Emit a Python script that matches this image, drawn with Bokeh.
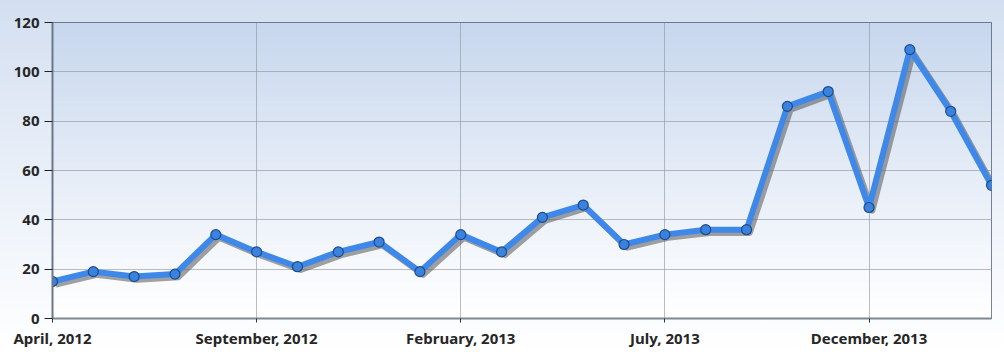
import numpy as np
from bokeh.plotting import figure
from bokeh.models import ColumnDataSource, FixedTicker, Range1d
from bokeh.transform import dodge
from bokeh.embed import file_html
from bokeh.resources import INLINE

months = ["April, 2012", "May, 2012", "June, 2012", "July, 2012", "August, 2012",
          "September, 2012", "October, 2012", "November, 2012", "December, 2012",
          "January, 2013", "February, 2013", "March, 2013", "April, 2013", "May, 2013",
          "June, 2013", "July, 2013", "August, 2013", "September, 2013", "October, 2013",
          "November, 2013", "December, 2013", "January, 2014", "February, 2014", "March, 2014"]
values = [15, 19, 17, 18, 34, 27, 21, 27, 31, 19, 34, 27, 41, 46, 30, 34, 36, 36, 86, 92, 45, 109, 84, 54]
y_ticks = [0, 20, 40, 60, 80, 100, 120]
x_tick_idx = [0, 5, 10, 15, 20]

idx = list(range(len(values)))
src = ColumnDataSource(dict(x=idx, y=values))

x_max = len(values) - 1
y_max = y_ticks[-1]

p = figure(width=1004, height=355, output_backend="svg", toolbar_location=None,
           x_range=Range1d(0, x_max), y_range=Range1d(0, y_max),
           min_border_left=52, min_border_right=13, min_border_top=22, min_border_bottom=37)

p.styles = {"background": "linear-gradient(to bottom, #d3dff0 0%, #eef3fa 60%, #ffffff 100%)"}
p.border_fill_alpha = 0
p.background_fill_alpha = 0
p.outline_line_color = "#4a5c74"
p.outline_line_width = 1

# plot-area gradient
n = 200
t = np.linspace(0, 1, n)  # bottom -> top
top = np.array([199, 215, 238])
bot = np.array([255, 255, 255])
img = np.zeros((n, 1), dtype=np.uint32)
view = img.view(dtype=np.uint8).reshape((n, 1, 4))
for i in range(n):
    c = bot + (top - bot) * t[i] ** 1.1
    view[i, 0, 0] = int(c[0]); view[i, 0, 1] = int(c[1]); view[i, 0, 2] = int(c[2]); view[i, 0, 3] = 255
p.image_rgba(image=[img], x=0, y=0, dw=x_max, dh=y_max, level="image")

# shadow
p.line(x=dodge("x", 0.08), y=dodge("y", -1.3), source=src, line_width=6,
       line_color="#555555", line_alpha=0.55, line_join="round")
# main line
p.line(x="x", y="y", source=src, line_width=6, line_color="#3d88e8", line_join="round")
p.scatter(x="x", y="y", source=src, size=10, fill_color="#3b82de",
          line_color="#1d4a8a", line_width=1.2)

FONT = "Noto Sans"
FS = "15px"

# axes
xa = p.xaxis[0]
xa.ticker = FixedTicker(ticks=x_tick_idx)
xa.major_label_overrides = {i: months[i] for i in x_tick_idx}
xa.major_label_text_font = FONT
xa.major_label_text_font_style = "bold"
xa.major_label_text_font_size = FS
xa.major_label_text_color = "#262626"
xa.axis_line_color = "#7f8790"
xa.axis_line_width = 2
xa.major_tick_line_color = "#333333"
xa.major_tick_in = 0
xa.major_tick_out = 4
xa.minor_tick_line_color = None
xa.major_label_standoff = 5

ya = p.yaxis[0]
ya.ticker = FixedTicker(ticks=y_ticks)
ya.major_label_text_font = FONT
ya.major_label_text_font_style = "bold"
ya.major_label_text_font_size = FS
ya.major_label_text_color = "#262626"
ya.axis_line_color = "#6b7888"
ya.axis_line_width = 2
ya.major_tick_line_color = "#222222"
ya.major_tick_line_width = 1
ya.major_tick_in = 0
ya.major_tick_out = 8
ya.minor_tick_line_color = None
ya.major_label_standoff = 5

p.xgrid.ticker = FixedTicker(ticks=x_tick_idx)
p.xgrid.grid_line_color = "#8c939c"
p.xgrid.grid_line_alpha = 0.6
p.ygrid.grid_line_color = "#8c939c"
p.ygrid.grid_line_alpha = 0.6

open("out.html", "w").write(file_html(p, INLINE))
